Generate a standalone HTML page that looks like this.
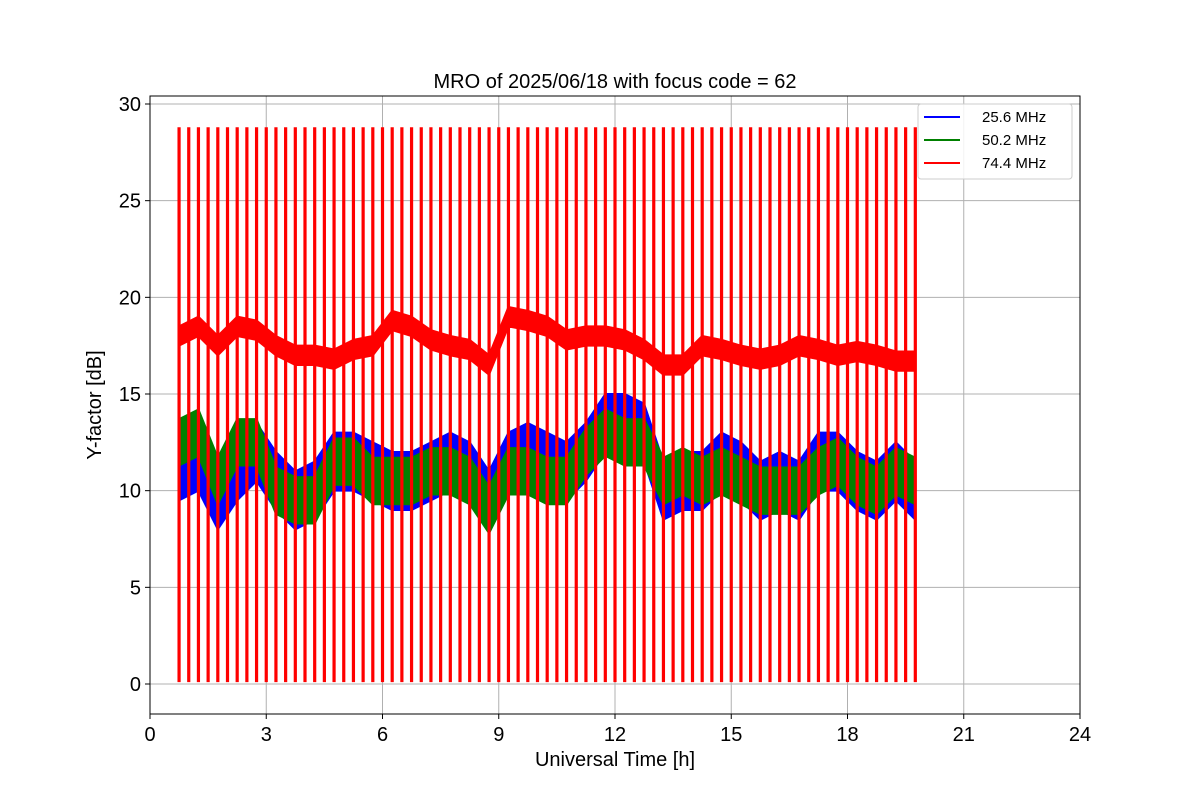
<!DOCTYPE html>
<html><head><meta charset="utf-8"><style>
body{margin:0;background:#fff;}
svg text{font-family:"Liberation Sans","DejaVu Sans",sans-serif;}
</style></head><body>
<svg id="chart" width="1200" height="800" xmlns="http://www.w3.org/2000/svg"></svg>
<script>
const xTicks=[0,3,6,9,12,15,18,21,24];
const yTicks=[0,5,10,15,20,25,30];
const t0=0.75, dt=0.5;
const blueMid=[11,11.5,9.5,11,12,10.5,9.5,10,11.5,11.5,11,10.5,10.5,11,11.5,11,9.5,11.5,12,11.5,11,12,13.5,13.5,13,10,10.5,10.5,11.5,11,10,10.5,10,11.5,11.5,10.5,10,11,10];
const greenMid=[12.5,13,10.5,12.5,12.5,10,9.5,9.5,11.5,11.5,10.5,10.5,10.5,11,11,10.5,9,11,11,10.5,10.5,12,13,12.5,12.5,10.5,11,10.5,11,10.5,10,10,10,11,11.5,10.5,10,11,10.5];
const redMid=[18,18.5,17.5,18.5,18.3,17.5,17,17,16.8,17.3,17.5,18.8,18.5,17.8,17.5,17.3,16.5,19,18.8,18.5,17.8,18,18,17.8,17.3,16.5,16.5,17.5,17.3,17,16.8,17,17.5,17.3,17,17.2,17,16.7,16.7];
const blueAmp=1.5, greenAmp=1.2, redAmp=0.5;
const spikeStart=0.75, spikeEnd=19.75, spikeStep=0.25, spikeTop=28.8, spikeBottom=0.1;
const NS="http://www.w3.org/2000/svg";
const svg=document.getElementById('chart');
const L=150,R=1080,T=96,B=714;
const X=v=>L+(v/24)*(R-L);
const Y=v=>684-(v/30)*(684-104);
function mk(tag,attrs,parent){const e=document.createElementNS(NS,tag);for(const k in attrs)e.setAttribute(k,attrs[k]);(parent||svg).appendChild(e);return e;}
const grid=mk('g',{});


xTicks.forEach(v=>{mk('line',{x1:X(v),x2:X(v),y1:T,y2:B,stroke:'#b0b0b0','stroke-width':1},grid);
 const tl=mk('text',{x:X(v),y:B+27,'font-size':20,'text-anchor':'middle'});tl.textContent=v;
 
 
 mk('line',{x1:X(v),x2:X(v),y1:B,y2:B+5,stroke:'#000'});});
yTicks.forEach(v=>{mk('line',{x1:L,x2:R,y1:Y(v),y2:Y(v),stroke:'#b0b0b0','stroke-width':1},grid);
 const tl=mk('text',{x:L-9,y:Y(v)+7,'font-size':20,'text-anchor':'end'});tl.textContent=v;
 
 
 mk('line',{x1:L-5,x2:L,y1:Y(v),y2:Y(v),stroke:'#000'});});
function band(mid,amp,color,name){
 const top=[],bot=[];
 mid.forEach((m,i)=>{const t=t0+i*dt;top.push(X(t)+','+Y(m+amp));bot.unshift(X(t)+','+Y(m-amp));});
 const p=mk('polygon',{points:top.concat(bot).join(' '),fill:color,stroke:color,'stroke-width':2,'stroke-linejoin':'round'});
 
 
}
band(blueMid,blueAmp,'#0000ff','series-25-6-mhz');
band(greenMid,greenAmp,'#008000','series-50-2-mhz');
band(redMid,redAmp,'#ff0000','series-74-4-mhz');
for(let t=spikeStart;t<=spikeEnd+1e-9;t+=spikeStep){
 const s=mk('line',{x1:X(t),x2:X(t),y1:Y(spikeTop),y2:Y(spikeBottom),stroke:'#ff0000','stroke-width':3.2});
 
 
}
const frame=mk('rect',{x:L,y:T,width:R-L,height:B-T,fill:'none',stroke:'#000','stroke-width':1});


</script>
<svg style="position:absolute;left:0;top:0" width="1200" height="800">
<text x="615" y="88" font-size="20" text-anchor="middle">MRO of 2025/06/18 with focus code = 62</text>
<text x="615" y="766" font-size="20" text-anchor="middle">Universal Time [h]</text>
<text x="101" y="405" font-size="20" text-anchor="middle" transform="rotate(-90 101 405)">Y-factor [dB]</text>
<g>
<rect x="918" y="104" width="154" height="75" rx="3" fill="#fff" fill-opacity="0.85" stroke="#ccc"/>
<g><line x1="924" x2="960" y1="117" y2="117" stroke="#0000ff" stroke-width="2"/><text x="982" y="122" font-size="15">25.6 MHz</text></g>
<g><line x1="924" x2="960" y1="140" y2="140" stroke="#008000" stroke-width="2"/><text x="982" y="145" font-size="15">50.2 MHz</text></g>
<g><line x1="924" x2="960" y1="163" y2="163" stroke="#ff0000" stroke-width="2"/><text x="982" y="168" font-size="15">74.4 MHz</text></g>
</g>
</svg>
</body></html>
